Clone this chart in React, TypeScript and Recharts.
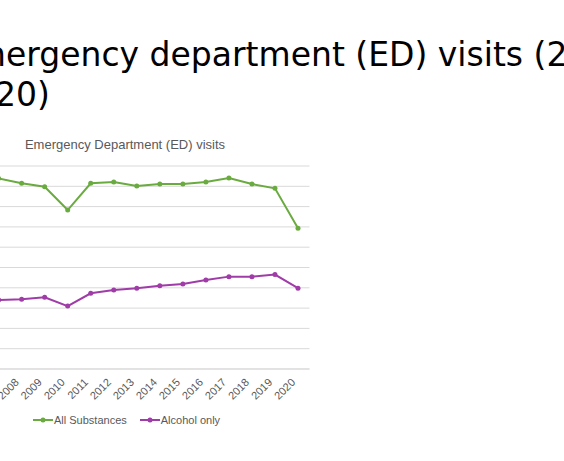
import { CartesianGrid, Legend, Line, LineChart, XAxis, YAxis } from "recharts";

const YEARS = ["2007", "2008", "2009", "2010", "2011", "2012", "2013", "2014", "2015", "2016", "2017", "2018", "2019", "2020"];
const ALL_SUBSTANCES = [93.9, 91.5, 89.8, 78.3, 91.5, 92.1, 90.1, 91.1, 91.1, 92.1, 94.1, 91.1, 89.0, 69.3];
const ALCOHOL_ONLY = [34.0, 34.3, 35.3, 31.0, 37.3, 38.9, 39.8, 41.0, 41.9, 43.8, 45.5, 45.5, 46.5, 39.8];
const Y_TICKS = [0, 10, 20, 30, 40, 50, 60, 70, 80, 90, 100];

const GREEN = "#6aab3f";
const PURPLE = "#a03ca8";
const FONT = "'Liberation Sans', Arial, sans-serif";
const TEXT = "#595959";

const data = YEARS.map((year, i) => ({
  year,
  all: ALL_SUBSTANCES[i],
  alcohol: ALCOHOL_ONLY[i],
}));

const SERIES = [
  { key: "all", name: "All Substances", color: GREEN },
  { key: "alcohol", name: "Alcohol only", color: PURPLE },
];

function YearTick({ x, y, payload }: any) {
  return (
    <g transform={`translate(${x},${y})`}>
      <text
        x={-2}
        y={10}
        textAnchor="end"
        transform="rotate(-45 -2 10)"
        fontSize={11}
        fontFamily={FONT}
        fill={TEXT}
      >
        {payload.value}
      </text>
    </g>
  );
}

function LegendRow() {
  return (
    <div style={{ display: "flex", alignItems: "center", fontFamily: FONT, fontSize: 11, color: TEXT }}>
      {SERIES.map((s, i) => (
        <div key={s.key} style={{ display: "flex", alignItems: "center", marginLeft: i ? 13 : 0 }}>
          <svg width={20} height={8}>
            <line x1={0} y1={4} x2={20} y2={4} stroke={s.color} strokeWidth={2} />
            <circle cx={10} cy={4} r={2.5} fill={s.color} />
          </svg>
          <span style={{ marginLeft: 1 }}>{s.name}</span>
        </div>
      ))}
    </div>
  );
}

export default function App() {
  return (
    <div style={{ position: "absolute", left: 0, top: 0, width: 564, height: 461, overflow: "hidden", background: "#fff" }}>
      <div
        style={{
          position: "absolute",
          left: -47,
          top: 34.6,
          fontFamily: "'DejaVu Sans', sans-serif",
          fontSize: 33,
          lineHeight: "40px",
          color: "#000",
          whiteSpace: "nowrap",
        }}
      >
        <div>Emergency department (ED) visits (2007–</div>
        <div>2020)</div>
      </div>
      <div style={{ position: "absolute", left: -60, top: 0 }}>
        <LineChart width={400} height={461} data={data} margin={{ top: 166, right: 30.5, bottom: 42, left: 7.1 }}>
          <text x={185} y={149} textAnchor="middle" fontSize={13} fontFamily={FONT} fill={TEXT}>
            Emergency Department (ED) visits
          </text>
          <CartesianGrid vertical={false} stroke="#d9d9d9" />
          <XAxis
            dataKey="year"
            interval={0}
            height={50}
            padding={{ left: 11.5, right: 11.5 }}
            tickLine={false}
            tickSize={0}
            tickMargin={4}
            axisLine={{ stroke: "#d9d9d9" }}
            tick={<YearTick />}
          />
          <YAxis
            width={40}
            domain={[0, 100]}
            ticks={Y_TICKS}
            interval={0}
            axisLine={false}
            tickLine={false}
            tick={{ fontSize: 11, fontFamily: FONT, fill: TEXT }}
          />
          {SERIES.map((s) => (
            <Line
              key={s.key}
              dataKey={s.key}
              name={s.name}
              stroke={s.color}
              strokeWidth={2}
              dot={{ r: 2.5, fill: s.color, stroke: s.color, strokeWidth: 0 }}
              isAnimationActive={false}
            />
          ))}
          <Legend
            layout="horizontal"
            verticalAlign="middle"
            align="center"
            wrapperStyle={{ top: 414, left: 93, width: 260, height: 16 }}
            content={() => <LegendRow />}
          />
        </LineChart>
      </div>
    </div>
  );
}
